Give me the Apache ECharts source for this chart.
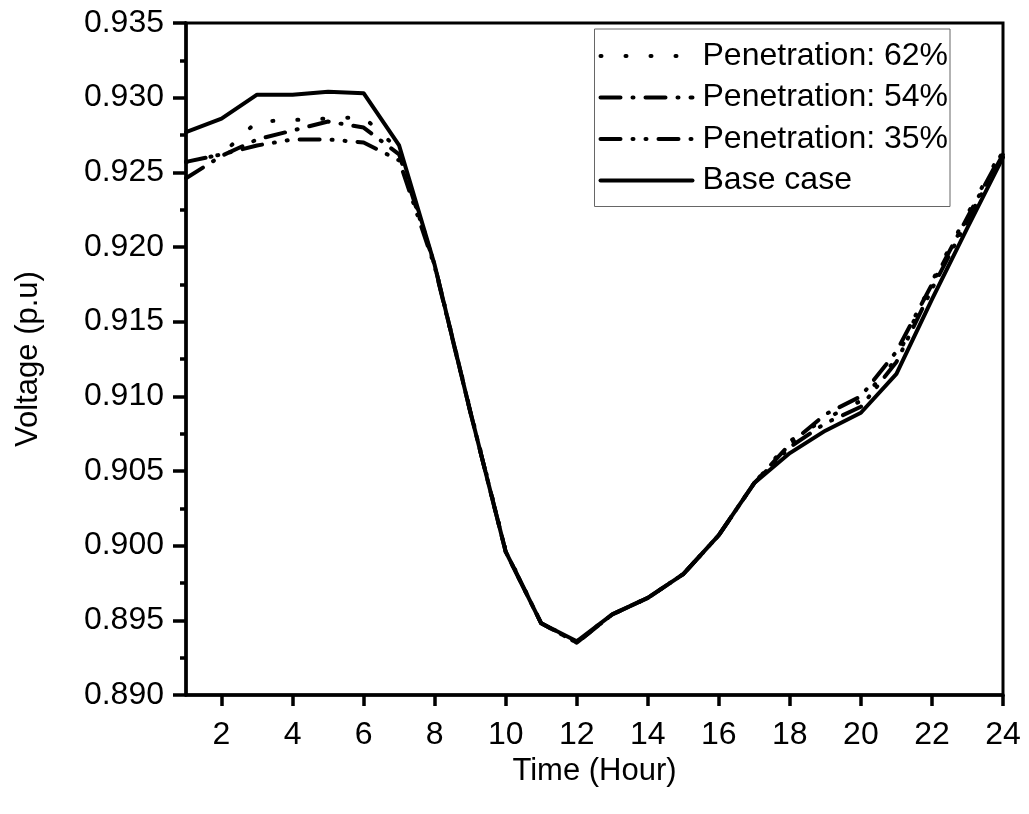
<!DOCTYPE html>
<html>
<head>
<meta charset="utf-8">
<script src="https://cdn.jsdelivr.net/npm/echarts@6/dist/echarts.min.js"></script>
<style>
html,body{margin:0;padding:0;background:#fff;}
#chart{width:1029px;height:814px;}
</style>
</head>
<body>
<div id="chart"></div>
<script>
const hours = [1,2,3,4,5,6,7,8,9,10,11,12,13,14,15,16,17,18,19,20,21,22,23,24];
const pen62 = [0.9257,0.9262,0.9284,0.9285,0.9286,0.9287,0.9265,0.9188,0.9091,0.8997,0.8948,0.8936,0.8954,0.8965,0.8981,0.9007,0.9042,0.9070,0.9085,0.9097,0.9125,0.9177,0.9222,0.9266];
const pen54 = [0.9246,0.9261,0.9272,0.9278,0.9284,0.9280,0.9262,0.9188,0.9090,0.8996,0.8948,0.8935,0.8954,0.8965,0.8981,0.9007,0.9042,0.9068,0.9088,0.9100,0.9130,0.9175,0.9220,0.9264];
const pen35 = [0.9257,0.9262,0.9268,0.9272,0.9272,0.9270,0.9258,0.9187,0.9090,0.8996,0.8948,0.8935,0.8954,0.8965,0.8981,0.9007,0.9042,0.9066,0.9082,0.9093,0.9123,0.9172,0.9218,0.9262];
const baseCase = [0.9277,0.9286,0.9302,0.9302,0.9304,0.9303,0.9268,0.9188,0.9090,0.8996,0.8948,0.8936,0.8954,0.8965,0.8981,0.9007,0.9042,0.9062,0.9077,0.9089,0.9115,0.9165,0.9213,0.9260];
const seriesNames = ['Penetration: 62%','Penetration: 54%','Penetration: 35%','Base case'];
const yTicks = {min:0.890, max:0.935, step:0.005};

const font = 'Liberation Sans, Arial, sans-serif';
const chart = echarts.init(document.getElementById('chart'), null, {renderer:'canvas'});

function mk(name, data, dash){
  return {
    name: name, type:'line', data: data, symbol:'none', showSymbol:false,
    lineStyle:{color:'#000', width:4, type:dash, cap:'round', join:'round'},
    itemStyle:{color:'#000'},
    z: 3
  };
}

chart.setOption({
  animation:false,
  backgroundColor:'#fff',
  grid:{left:186, right:26, top:23, bottom:119, show:true, borderColor:'#000', borderWidth:3, backgroundColor:'transparent'},
  legend:{
    show:true, orient:'vertical', right:79, top:29,
    itemWidth:92, itemHeight:14, itemGap:9.5,
    padding:[11,2,10,4],
    borderColor:'#666', borderWidth:1, backgroundColor:'#fff',
    itemStyle:{opacity:0},
    lineStyle:{width:4, color:'#000', cap:'round'},
    textStyle:{fontFamily:font, fontSize:32, color:'#000', padding:[0,0,0,5]},
    data: seriesNames
  },
  xAxis:{
    type:'category', data: hours, boundaryGap:false,
    name:'Time (Hour)', nameLocation:'middle', nameGap:56,
    nameTextStyle:{fontFamily:font, fontSize:31, color:'#000'},
    axisLine:{show:true, lineStyle:{color:'#000', width:3.5}},
    axisTick:{show:true, inside:false, length:11, lineStyle:{color:'#000', width:3.5},
      interval:function(i,v){return Number(v)%2===0;}},
    axisLabel:{fontFamily:font, fontSize:32, color:'#000', margin:24,
      interval:function(i,v){return Number(v)%2===0;}},
    splitLine:{show:false}
  },
  yAxis:{
    type:'value', min:yTicks.min, max:yTicks.max, interval:yTicks.step,
    name:'Voltage (p.u)', nameLocation:'middle', nameGap:142, nameRotate:90,
    nameTextStyle:{fontFamily:font, fontSize:31, color:'#000'},
    axisLine:{show:true, lineStyle:{color:'#000', width:3.5}},
    axisTick:{show:true, inside:false, length:13, lineStyle:{color:'#000', width:3.5}},
    minorTick:{show:true, splitNumber:2, length:6, lineStyle:{color:'#000', width:3.5}},
    axisLabel:{fontFamily:font, fontSize:32, color:'#000', margin:22,
      formatter:function(v){return v.toFixed(3);}},
    splitLine:{show:false}
  },
  series:[
    mk(seriesNames[0], pen62, [1,24]),
    mk(seriesNames[1], pen54, [20,12,1,12]),
    mk(seriesNames[2], pen35, [20,12,1,12,1,12]),
    mk(seriesNames[3], baseCase, 'solid')
  ]
});
</script>
</body>
</html>
